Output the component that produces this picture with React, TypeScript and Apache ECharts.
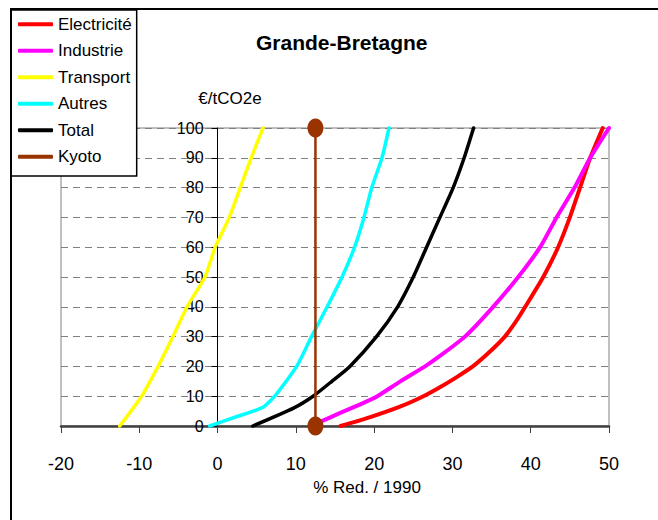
import React, { useEffect, useRef } from "react";
import * as echarts from "echarts";

const FONT = "'Liberation Sans', Arial, sans-serif";

const seriesNames = ["Electricité", "Industrie", "Transport", "Autres", "Total", "Kyoto"];
const seriesColors = ["#FF0000", "#FF00FF", "#FFFF00", "#00FFFF", "#000000", "#993300"];

// [% reduction / 1990, €/tCO2e]
const electricite: number[][] = [
  [15.7, 0], [19.5, 3], [23.3, 6.5], [26.3, 10], [28.4, 13], [30.6, 16.5], [32.6, 20],
  [34.8, 25], [36.7, 30], [38.1, 35], [39.3, 40], [41.6, 50], [43.5, 60], [45, 70],
  [46.3, 80], [47.6, 90], [49.2, 100],
];
const industrie: number[][] = [
  [13.1, 1.4], [15.6, 4.3], [18, 7], [20.3, 9.8], [23.3, 14.9], [26.5, 20], [28.4, 23.5],
  [31.6, 30], [35.2, 40], [38.4, 50], [41.2, 60], [43.3, 70], [45.6, 80], [47.6, 90], [50, 100],
];
const transport: number[][] = [
  [-12.5, 0], [-9.7, 10], [-7.6, 20], [-5.7, 30], [-3.9, 40], [-1.6, 50], [-0.3, 60],
  [1.5, 70], [2.9, 80], [4.3, 90], [5.8, 100],
];
const autres: number[][] = [
  [-1, 0], [2.4, 3.1], [5.8, 6.3], [7.3, 10], [10.1, 20], [12, 30], [14, 40], [15.9, 50],
  [17.5, 60], [18.7, 70], [19.7, 80], [21, 90], [21.9, 100],
];
const total: number[][] = [
  [4.5, 0], [9.7, 6], [12.2, 10], [14.6, 15], [16.9, 20], [20.3, 30], [23, 40], [25, 50],
  [26.7, 60], [28.4, 70], [30.1, 80], [31.5, 90], [32.7, 100],
];
const kyoto: number[][] = [
  [12.5, 0], [12.5, 100],
];

const xMin = -20, xMax = 50, xStep = 10;
const yMin = 0, yMax = 100, yStep = 10;

const titleText = "Grande-Bretagne";
const yUnitText = "€/tCO2e";
const xNameText = "% Red. / 1990";

const GRID_LEFT = 61, GRID_RIGHT = 49, CHART_W = 658;

export default function App() {
  const ref = useRef<HTMLDivElement>(null);
  useEffect(() => {
    if (!ref.current) return;
    const chart = echarts.init(ref.current, undefined, { renderer: "svg" });
    const dataSets = [electricite, industrie, transport, autres, total];
    const widths = [4, 4, 3.5, 3.5, 3.5];
    const series: any[] = dataSets.map((d, i) => ({
      name: seriesNames[i],
      type: "line",
      data: d,
      symbol: "none",
      clip: false,
      smooth: 0.2,
      lineStyle: { color: seriesColors[i], width: widths[i], cap: "round", join: "round" },
      itemStyle: { color: seriesColors[i] },
      z: 3 + i,
    }));
    series.push({
      name: seriesNames[5],
      type: "line",
      data: kyoto,
      symbol: "circle",
      symbolSize: [16, 19],
      showSymbol: true,
      clip: false,
      lineStyle: { color: seriesColors[5], width: 2.5 },
      itemStyle: { color: seriesColors[5] },
      z: 10,
    });
    // y axis sits on x = 0: shift it inward from the grid's left edge
    const plotW = CHART_W - GRID_LEFT - GRID_RIGHT;
    const yAxisOffset = -plotW * (0 - xMin) / (xMax - xMin);
    chart.setOption({
      animation: false,
      backgroundColor: "#fff",
      textStyle: { fontFamily: FONT },
      title: {
        text: titleText,
        left: 256,
        top: 32,
        padding: 0,
        textStyle: { fontSize: 21, fontWeight: "bold", color: "#000", fontFamily: FONT },
      },
      legend: {
        orient: "vertical",
        left: 11,
        top: 10,
        padding: [1, 5, 6, 7],
        itemWidth: 35,
        itemHeight: 4,
        itemGap: 0,
        borderColor: "#000",
        borderWidth: 1.5,
        backgroundColor: "#fff",
        textStyle: { fontSize: 17, color: "#000", fontFamily: FONT, lineHeight: 26.5 },
        data: seriesNames.map((n, i) => ({
          name: n,
          icon: "roundRect",
          itemStyle: { color: seriesColors[i] },
        })),
        z: 20,
      },
      grid: {
        left: GRID_LEFT,
        right: GRID_RIGHT,
        top: 128,
        bottom: 94,
        show: true,
        borderColor: "#808080",
        borderWidth: 1,
        backgroundColor: "transparent",
      },
      xAxis: {
        type: "value",
        min: xMin,
        max: xMax,
        interval: xStep,
        axisLine: { onZero: true, lineStyle: { color: "#404040", width: 2.5 } },
        axisTick: { show: true, inside: false, length: 7, lineStyle: { color: "#404040", width: 1 } },
        axisLabel: { fontSize: 18, color: "#000", margin: 29, fontFamily: FONT },
        splitLine: { show: false },
      },
      yAxis: {
        type: "value",
        min: yMin,
        max: yMax,
        interval: yStep,
        offset: yAxisOffset,
        axisLine: { show: true, onZero: false, lineStyle: { color: "#000", width: 1 } },
        axisTick: { show: true, inside: false, length: 6, lineStyle: { color: "#000", width: 1 } },
        axisLabel: { fontSize: 16, color: "#000", margin: 14, fontFamily: FONT },
        splitLine: { show: true, lineStyle: { color: "#808080", width: 1, type: [7, 5] } },
      },
      graphic: [
        {
          type: "rect",
          shape: { x: 11, y: 9, width: 700, height: 600 },
          style: { fill: "none", stroke: "#000", lineWidth: 2 },
          z: 30,
          silent: true,
        },
        {
          type: "text",
          x: 230,
          y: 98,
          style: { text: yUnitText, fontSize: 17, fill: "#000", fontFamily: FONT, align: "center", verticalAlign: "middle" },
        },
        {
          type: "text",
          x: 367,
          y: 487,
          style: { text: xNameText, fontSize: 17, fill: "#000", fontFamily: FONT, align: "center", verticalAlign: "middle" },
        },
      ],
      series,
    });
    return () => chart.dispose();
  }, []);
  return (
    <div
      ref={ref}
      style={{ position: "absolute", left: 0, top: 0, width: 658, height: 520 }}
    />
  );
}
